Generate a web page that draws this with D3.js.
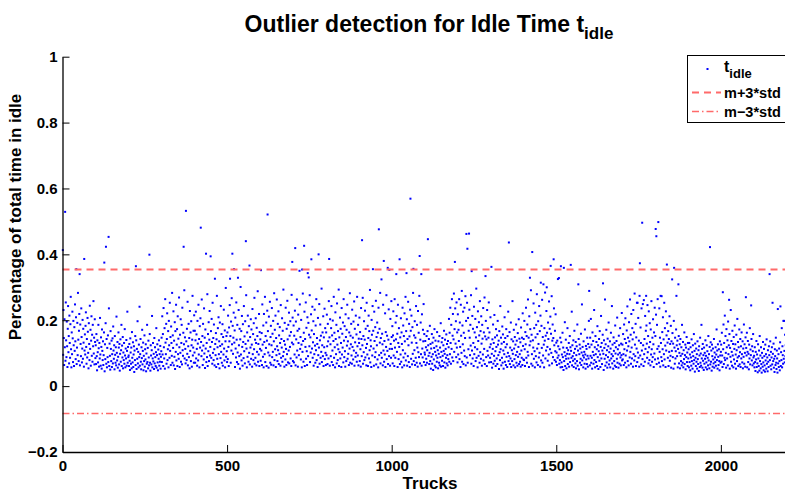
<!DOCTYPE html>
<html>
<head>
<meta charset="utf-8">
<script src="https://cdn.jsdelivr.net/npm/d3@7"></script>
<style>
body { margin: 0; background: #fff; }
text { font-family: "Liberation Sans", Arial, sans-serif; font-weight: bold; }
</style>
</head>
<body>
<script>
//variabili
var width = 785, height = 492;

//valori (millesimi), un punto per camion
var idleA = [
182,95,231,146,64,203,118,167,77,254,139,88,196,121,58,174,243,103,152,69,214,131,86,188,271,112,57,163,97,226,145,73,198,124,61,179,107,248,136,82,209,156,67,117,192,94,283,141,76,168,219,105,63,187,128,91,236,149,72,114,201,83,174,132,59,262,108,157,96,183,224,119,68,143,87,207,165,101,54,191,128,79,244,113,171,62,138,212,92,156,74,186,121,258,99,147,66,203,134,85,
124,67,158,91,48,139,103,72,186,115,59,131,84,207,96,62,148,119,53,172,107,79,136,64,94,163,111,45,127,82,191,99,68,143,57,116,88,154,73,104,236,61,129,92,50,167,113,76,138,58,97,145,69,181,108,83,124,51,152,95,71,118,63,211,101,78,134,56,89,163,117,66,128,47,98,142,74,109,186,61,123,87,149,54,102,79,131,68,173,93,57,114,84,140,62,107,226,71,119,88,
93,61,128,77,49,145,102,68,117,54,164,86,72,133,58,96,121,43,108,79,152,64,91,139,52,113,83,197,69,104,57,126,88,241,62,97,143,74,51,118,85,171,66,107,132,48,92,76,154,59,112,81,127,45,99,68,186,73,116,54,138,87,63,102,158,71,47,124,93,66,109,213,57,84,131,75,98,52,146,69,118,88,61,103,176,56,94,127,72,48,111,83,139,62,97,74,122,53,89,106,
147,73,212,96,158,61,237,118,84,176,53,264,132,97,189,68,143,221,79,112,167,57,198,124,86,253,107,149,64,181,131,92,283,71,154,116,227,63,138,89,194,52,167,104,247,78,126,173,61,212,97,144,83,269,118,58,156,101,203,74,131,186,66,238,109,92,162,57,127,291,84,148,113,69,207,136,79,174,98,256,63,121,189,88,146,54,228,107,163,76,197,124,59,141,274,93,117,168,71,215,
102,168,71,139,226,84,157,113,62,198,129,78,247,96,143,57,182,117,206,69,134,91,263,108,152,64,189,123,81,236,99,147,55,172,114,213,73,131,88,279,61,158,106,194,76,141,228,93,119,52,167,86,204,134,68,253,101,146,79,187,112,63,221,128,94,161,58,142,274,83,118,176,67,209,97,136,54,193,122,85,243,104,158,71,127,188,62,149,96,232,114,78,169,57,136,298,89,152,106,73
];
var idleB = [
163,82,214,119,61,178,136,246,93,152,71,196,108,267,127,64,183,98,147,223,76,132,169,58,208,114,87,254,141,73,186,102,159,67,231,124,91,174,53,142,301,96,167,78,213,119,62,188,134,85,243,106,151,69,197,128,92,276,114,57,163,89,214,138,74,182,101,249,66,149,117,203,83,172,126,59,234,97,158,79,191,112,268,68,141,86,206,131,63,177,104,152,288,74,128,96,219,61,164,113,
142,77,203,108,161,64,248,126,89,184,57,219,134,97,271,73,152,116,193,61,138,229,84,167,102,56,211,127,93,256,71,149,183,65,124,237,88,159,104,198,63,136,282,79,171,112,214,58,146,94,263,121,76,189,109,227,67,154,98,179,131,62,246,86,143,117,206,74,168,91,293,104,137,59,192,126,81,238,113,64,174,97,259,142,72,186,108,223,69,153,119,197,84,164,61,277,132,93,208,76,
127,184,72,153,96,229,118,63,196,142,87,263,108,168,59,217,131,94,174,66,248,113,149,81,201,126,57,187,104,281,137,74,162,98,226,61,143,119,254,83,177,106,64,209,134,91,192,58,156,121,276,73,148,102,218,67,169,114,241,86,133,197,62,158,97,232,123,71,184,109,264,79,146,128,58,207,94,171,117,249,68,139,187,86,153,104,296,73,124,163,91,212,61,148,118,235,82,176,101,64,
163,94,217,121,67,189,136,84,258,111,148,62,203,127,91,176,243,73,154,108,199,64,137,271,86,162,118,57,224,143,97,186,69,251,126,79,167,112,293,61,148,103,208,84,174,131,58,237,96,159,117,193,72,264,138,88,182,106,59,218,149,76,171,123,247,83,136,98,206,64,163,114,282,71,153,127,189,93,68,232,119,147,81,196,108,257,62,174,133,89,214,101,157,74,271,121,93,186,63,144,
131,208,76,164,112,59,237,143,91,186,124,268,68,152,103,197,79,141,229,87,174,116,63,253,128,96,183,61,146,214,84,167,109,292,72,139,121,58,201,156,93,243,77,168,114,62,226,137,88,179,103,259,66,149,124,193,81,162,57,238,118,94,174,132,283,69,146,101,212,86,159,127,63,247,108,183,74,137,96,221,58,164,119,276,82,153,107,192,67,141,233,91,171,113,62,204,128,86,258,149
];
var idleC = [
113,182,69,154,227,93,138,61,264,117,86,193,142,72,213,104,159,58,247,131,82,176,119,294,67,148,96,206,74,163,128,57,238,109,184,87,152,63,221,136,99,271,78,167,114,203,62,143,91,256,124,73,189,151,58,232,107,168,83,214,132,66,179,98,283,121,76,154,109,197,64,147,86,243,131,71,186,117,59,228,103,162,88,274,126,69,141,193,97,156,62,218,114,87,171,136,249,73,158,102,
96,137,64,118,83,152,71,109,167,58,124,92,143,67,101,183,76,128,53,114,89,158,68,132,97,49,147,81,116,173,62,104,138,57,93,121,74,164,86,109,54,136,98,71,152,63,117,88,191,59,104,133,77,146,92,61,124,107,168,72,98,141,56,113,86,157,69,128,94,63,137,82,118,204,74,162,97,238,131,68,186,113,264,87,153,219,76,142,281,104,173,61,236,129,197,88,254,117,163,72,
218,96,171,137,264,82,193,119,58,247,153,101,289,74,184,127,226,67,162,108,238,91,146,273,63,198,124,87,253,139,71,207,112,168,59,232,147,94,186,123,276,68,157,108,213,84,174,131,61,241,97,163,118,204,76,148,296,86,179,112,57,227,137,92,194,154,71,258,103,167,83,212,129,62,186,144,96,237,78,163,113,269,67,151,124,198,88,142,61,231,107,176,93,147,254,72,163,118,86,209,
127,73,164,98,56,142,113,187,68,131,92,216,77,148,106,61,173,119,84,154,67,198,126,94,138,52,167,103,79,243,112,147,63,129,86,181,71,157,108,53,134,97,209,74,146,118,64,173,89,127,58,152,101,226,76,139,91,164,67,117,84,193,58,142,109,76,258,98,136,63,171,114,82,149,57,126,94,187,71,138,104,62,161,89,119,203,67,144,97,74,133,59,178,108,86,147,64,221,122,81,
143,79,198,112,61,164,127,238,86,152,71,187,104,263,93,147,58,212,124,76,173,136,291,68,156,97,204,62,139,117,251,83,176,106,57,223,148,91,186,72,279,114,158,64,197,128,87,243,101,167,59,214,134,78,183,116,262,71,149,93,207,126,57,176,138,284,84,153,108,228,66,162,119,77,193,143,96,257,63,174,112,211,82,159,101,273,69,138,187,88,146,61,236,124,79,168,106,218,74,132
];
var idleD = [
102,64,138,86,53,121,93,171,68,112,79,147,57,104,133,72,96,58,162,88,117,49,128,76,103,194,61,92,141,83,54,116,98,176,67,109,84,131,59,97,152,73,118,46,107,86,226,63,124,91,77,139,58,101,168,82,113,69,134,54,94,121,76,187,62,108,87,143,51,97,126,71,114,83,159,64,102,248,78,119,93,57,136,87,104,68,172,96,53,122,81,113,67,147,92,59,128,84,198,74,
118,63,147,92,204,71,126,86,53,163,104,137,68,94,231,79,118,57,152,97,73,134,112,61,182,88,124,52,106,143,77,167,96,58,119,213,84,131,67,108,156,74,98,49,139,116,83,263,62,127,94,171,72,109,56,144,88,121,193,66,103,78,136,57,114,162,84,97,243,69,126,91,53,148,107,76,131,62,184,99,118,58,137,83,208,71,112,96,56,153,124,68,101,176,87,63,129,94,222,78,
126,81,158,97,64,187,112,143,71,206,93,131,57,169,108,242,76,147,121,63,194,136,87,263,104,156,68,219,117,84,176,142,59,231,97,163,78,281,126,91,189,61,148,114,253,73,167,102,207,86,138,59,274,119,93,178,131,66,236,108,154,82,197,124,61,261,97,143,74,213,113,168,57,184,129,86,246,103,152,69,227,118,79,191,134,63,172,96,258,112,74,147,88,203,127,58,163,99,238,81,
152,96,217,128,67,186,113,264,84,159,121,71,236,104,147,59,198,131,88,273,76,164,112,209,63,142,97,253,81,176,123,58,227,108,154,73,191,132,86,167,61,143,104,212,77,128,92,183,56,136,107,74,161,88,129,53,198,96,117,68,147,84,106,172,62,124,91,138,57,113,86,152,69,101,127,54,143,92,76,118,63,186,98,71,134,57,109,82,163,67,94,126,51,117,88,149,73,102,61,131,
84,112,57,131,73,96,48,118,87,62,142,76,103,53,124,91,68,158,79,107,44,129,86,61,114,74,97,53,136,82,67,109,46,121,93,58,147,71,99,62,186,84,113,56,128,77,94,49,117,68,101,83,139,57,92,72,124,51,106,86,63,152,78,97,54,119,88,66,133,74,108,47,126,91,59,114,81,69,143,56,102,87,73,118,62,96,172,79,108,53,127,89,64,112,76,48,136,93,71,104
];
var idleE = [
126,74,162,93,58,143,112,187,67,131,86,214,79,152,101,56,173,118,84,139,63,196,97,124,71,158,53,116,89,231,74,137,104,62,168,93,128,57,149,81,113,184,68,127,96,53,156,109,76,204,87,134,61,118,91,172,66,103,143,58,121,84,163,97,72,136,54,114,89,187,68,127,101,59,148,79,116,93,162,57,104,137,73,98,51,126,84,176,66,111,94,57,143,78,121,63,106,158,87,69,
92,57,118,73,46,104,81,137,58,96,69,42,127,84,61,108,47,152,76,93,54,118,67,41,101,86,59,134,72,48,113,91,63,44,126,78,97,53,142,68,87,45,109,74,58,121,94,43,79,136,62,104,51,87,118,66,47,98,76,129,56,83,43,112,91,64,147,71,52,108,84,41,126,69,97,58,114,76,48,133,88,61,103,79,176,57,121,94,68,142,83,198,107,72,156,91,124,63,167,86
];

//valori alti (camion, millesimi)
var peakTruck = [1,8,42,52,66,127,132,140,223,264,368,375,420,436,450,463,509,516,521,533,557,568,603,623,698,707,720,728,734,745,748,756,778,810,910,943,961,969,976,988,993,1014,1024,1045,1057,1066,1085,1090,1110,1192,1227,1230,1235,1243,1285,1303,1356,1420,1427,1453,1461,1471,1483,1492,1505,1508,1514,1523,1544,1567,1600,1642,1747,1754,1761,1763,1773,1802,1804,1810,1817,1836,1852,1858,1865,1871,1967,2006,2025,2076,2092,2148,2157,2173,2181,2190];
var peakValue = [413,529,355,340,386,375,423,453,364,399,423,532,481,402,394,326,326,402,355,329,440,366,352,521,377,419,350,354,426,343,330,385,400,386,443,355,476,324,380,359,353,340,385,343,569,356,395,340,446,377,462,417,463,349,334,362,436,329,407,314,309,300,365,385,325,328,364,359,368,309,289,312,253,373,496,249,274,477,455,498,274,369,324,359,274,309,422,285,262,270,245,340,253,234,242,198];

//soglie
var upperLimit = 0.354, lowerLimit = -0.083;

//tick
var xTicks = [0, 500, 1000, 1500, 2000];
var yTicks = [-0.2, 0, 0.2, 0.4, 0.6, 0.8, 1];

var idle = idleA.concat(idleB, idleC, idleD, idleE);
peakTruck.forEach(function (t, i) { if (t <= idle.length) idle[t - 1] = peakValue[i]; });
var dati = idle.map(function (v, i) { return { camion: i + 1, valore: v / 1000 }; });

var svg = d3.select("body")
    .append("svg")
    .attr("width", width)
    .attr("height", height);

//scale
var xScale = d3.scaleLinear().domain([0, 2200]).range([62.5, 786.7]);
var yScale = d3.scaleLinear().domain([-0.2, 1]).range([452, 56.7]);

//punti
svg.append("g")
    .selectAll("rect")
    .data(dati)
    .enter().append("rect")
    .attr("x", function (d) { return xScale(d.camion) - 1; })
    .attr("y", function (d) { return yScale(d.valore) - 1; })
    .attr("width", 2)
    .attr("height", 2)
    .style("fill", "#0000ff");

//linee di soglia
svg.append("line")
    .attr("x1", xScale(0)).attr("x2", xScale(2200))
    .attr("y1", yScale(upperLimit)).attr("y2", yScale(upperLimit))
    .style("stroke", "#ff6a6a").style("stroke-width", 2)
    .style("stroke-dasharray", "7,5");

svg.append("line")
    .attr("x1", xScale(0)).attr("x2", xScale(2200))
    .attr("y1", yScale(lowerLimit)).attr("y2", yScale(lowerLimit))
    .style("stroke", "#ff6a6a").style("stroke-width", 1.5)
    .style("stroke-dasharray", "7,3,1.5,3");

//assi
var xAxis = d3.axisBottom(xScale).tickValues(xTicks).tickSizeInner(-7).tickSizeOuter(0).tickPadding(8)
    .tickFormat(d3.format("d"));
var yAxis = d3.axisLeft(yScale).tickValues(yTicks).tickSizeInner(-7).tickSizeOuter(0).tickPadding(5)
    .tickFormat(d3.format("~g"));

var gx = svg.append("g").attr("transform", "translate(0," + yScale(-0.2) + ")").call(xAxis);
var gy = svg.append("g").attr("transform", "translate(" + xScale(0) + ",0)").call(yAxis);
[gx, gy].forEach(function (g) {
    g.attr("font-size", 15).attr("font-family", null);
    g.select(".domain").style("stroke", "#000").style("stroke-width", 1.3);
    g.selectAll(".tick line").style("stroke", "#000");
    g.selectAll(".tick text").style("fill", "#000");
});

//titolo
var title = svg.append("text")
    .attr("x", 429).attr("y", 32)
    .attr("text-anchor", "middle")
    .style("font-size", "23px");
title.append("tspan").text("Outlier detection for Idle Time t");
title.append("tspan").attr("dy", 7).style("font-size", "17px").text("idle");

//nomi degli assi
svg.append("text")
    .attr("transform", "rotate(-90)")
    .attr("x", -217).attr("y", 21)
    .attr("text-anchor", "middle")
    .style("font-size", "17px")
    .text("Percentage of total time in idle");

svg.append("text")
    .attr("x", 430).attr("y", 489)
    .attr("text-anchor", "middle")
    .style("font-size", "17px")
    .text("Trucks");

//legenda
var leg = svg.append("g");
leg.append("rect")
    .attr("x", 687.5).attr("y", 55.5).attr("width", 110).attr("height", 67)
    .style("fill", "#fff").style("stroke", "#000");
leg.append("rect").attr("x", 706.5).attr("y", 68).attr("width", 2).attr("height", 2).style("fill", "#0000ff");
var lt = leg.append("text").attr("x", 724).attr("y", 72).style("font-size", "16px");
lt.append("tspan").text("t");
lt.append("tspan").attr("dy", 6).style("font-size", "13px").text("idle");
leg.append("line").attr("x1", 692).attr("x2", 721).attr("y1", 92.5).attr("y2", 92.5)
    .style("stroke", "#ff6a6a").style("stroke-width", 2).style("stroke-dasharray", "7,5");
leg.append("text").attr("x", 724).attr("y", 98).style("font-size", "14.5px").text("m+3*std");
leg.append("line").attr("x1", 692).attr("x2", 721).attr("y1", 111.5).attr("y2", 111.5)
    .style("stroke", "#ff6a6a").style("stroke-width", 1.5).style("stroke-dasharray", "7,3,1.5,3");
leg.append("text").attr("x", 724).attr("y", 117).style("font-size", "14.5px").text("m\u22123*std");
</script>
</body>
</html>
